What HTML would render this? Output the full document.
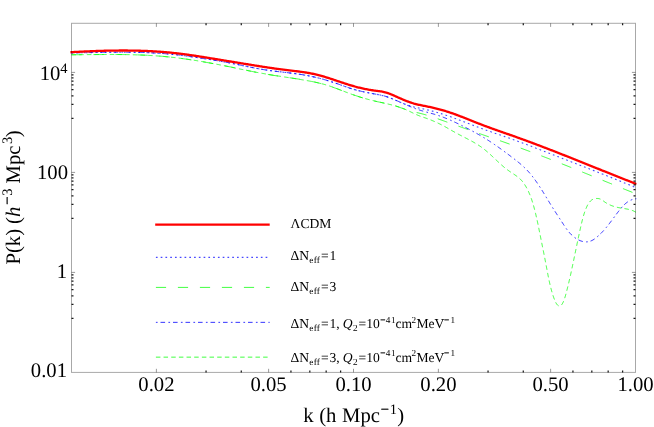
<!DOCTYPE html>
<html><head><meta charset="utf-8"><title>P(k)</title>
<style>
html,body{margin:0;padding:0;background:#fff;}
body{width:654px;height:427px;overflow:hidden;}
svg{display:block;}
text{font-family:"Liberation Serif",serif;fill:#000;text-rendering:geometricPrecision;}
</style></head><body>
<svg width="654" height="427" viewBox="0 0 654 427">
<rect width="654" height="427" fill="#fff"/>
<defs><clipPath id="cp"><rect x="70.2" y="23.3" width="566.4" height="349.09999999999997"/></clipPath></defs>
<g fill="none" clip-path="url(#cp)" stroke-linejoin="round">
<path d="M71.51 52.87L72.51 52.86L73.50 52.85L74.50 52.84L75.50 52.83L76.50 52.82L77.49 52.81L78.49 52.80L79.49 52.78L80.49 52.77L81.49 52.76L82.48 52.74L83.48 52.73L84.48 52.71L85.48 52.69L86.48 52.68L87.48 52.66L88.48 52.64L89.48 52.62L90.48 52.61L91.48 52.59L92.48 52.57L93.48 52.55L94.48 52.54L95.48 52.52L96.48 52.50L97.48 52.48L98.48 52.46L99.48 52.45L100.49 52.43L101.49 52.41L102.49 52.40L103.49 52.38L104.49 52.36L105.49 52.35L106.49 52.33L107.49 52.32L108.49 52.30L109.50 52.29L110.50 52.28L111.50 52.26L112.50 52.25L113.50 52.24L114.50 52.23L115.51 52.22L116.51 52.21L117.51 52.21L118.51 52.20L119.51 52.20L120.51 52.19L121.51 52.19L122.52 52.19L123.52 52.18L124.52 52.18L125.52 52.19L126.52 52.19L127.52 52.19L128.52 52.20L129.52 52.20L130.53 52.21L131.53 52.22L132.53 52.23L133.53 52.25L134.53 52.26L135.53 52.28L136.53 52.29L137.53 52.31L138.53 52.33L139.53 52.36L140.53 52.38L141.53 52.41L142.53 52.44L143.53 52.47L144.53 52.50L145.53 52.53L146.53 52.57L147.53 52.61L148.53 52.65L149.53 52.69L150.52 52.74L151.52 52.79L152.52 52.84L153.52 52.89L154.52 52.95L155.51 53.00L156.51 53.06L157.51 53.12L158.51 53.19L159.50 53.26L160.50 53.33L161.50 53.40L162.49 53.48L163.49 53.55L164.48 53.64L165.48 53.72L166.47 53.81L167.47 53.90L168.46 53.99L169.46 54.08L170.45 54.18L171.45 54.28L172.44 54.39L173.43 54.49L174.43 54.60L175.42 54.71L176.41 54.82L177.41 54.93L178.40 55.05L179.39 55.17L180.38 55.29L181.38 55.41L182.37 55.53L183.36 55.66L184.35 55.79L185.34 55.91L186.33 56.05L187.33 56.18L188.32 56.31L189.31 56.44L190.30 56.58L191.29 56.72L192.28 56.86L193.27 56.99L194.26 57.13L195.25 57.28L196.24 57.42L197.23 57.56L198.22 57.70L199.21 57.85L200.20 57.99L201.19 58.14L202.18 58.29L203.17 58.44L204.16 58.59L205.15 58.74L206.13 58.89L207.12 59.04L208.11 59.19L209.10 59.35L210.09 59.51L211.08 59.66L212.06 59.82L213.05 59.98L214.04 60.15L215.02 60.31L216.01 60.48L217.00 60.64L217.98 60.81L218.97 60.98L219.95 61.16L220.94 61.33L221.92 61.51L222.91 61.69L223.89 61.87L224.87 62.05L225.86 62.23L226.84 62.42L227.82 62.61L228.80 62.80L229.78 62.99L230.77 63.18L231.75 63.38L232.73 63.58L233.71 63.78L234.69 63.97L235.67 64.17L236.65 64.38L237.63 64.58L238.61 64.78L239.58 64.98L240.56 65.18L241.54 65.39L242.52 65.59L243.50 65.79L244.48 65.99L245.46 66.19L246.44 66.39L247.42 66.59L248.40 66.79L249.38 66.99L250.36 67.18L251.34 67.38L252.32 67.57L253.30 67.76L254.29 67.95L255.27 68.13L256.25 68.31L257.23 68.50L258.22 68.67L259.20 68.85L260.19 69.02L261.17 69.19L262.16 69.36L263.14 69.52L264.13 69.68L265.12 69.83L266.11 69.98L267.09 70.13L268.08 70.27L269.07 70.41L270.07 70.55L271.06 70.68L272.05 70.82L273.04 70.94L274.03 71.07L275.03 71.20L276.02 71.32L277.01 71.44L278.01 71.56L279.00 71.68L280.00 71.80L280.99 71.91L281.98 72.03L282.98 72.15L283.97 72.26L284.97 72.38L285.96 72.50L286.96 72.62L287.95 72.74L288.94 72.86L289.94 72.98L290.93 73.10L291.92 73.23L292.92 73.35L293.91 73.48L294.90 73.61L295.89 73.75L296.88 73.89L297.87 74.03L298.86 74.17L299.85 74.32L300.84 74.47L301.82 74.63L302.81 74.79L303.79 74.95L304.78 75.12L305.76 75.29L306.75 75.47L307.73 75.66L308.71 75.85L309.69 76.04L310.67 76.24L311.64 76.45L312.62 76.66L313.60 76.88L314.57 77.10L315.54 77.32L316.52 77.55L317.49 77.79L318.46 78.03L319.43 78.27L320.40 78.52L321.36 78.78L322.33 79.04L323.29 79.30L324.25 79.57L325.22 79.85L326.18 80.13L327.13 80.41L328.09 80.70L329.05 80.99L330.00 81.29L330.96 81.59L331.91 81.90L332.86 82.21L333.81 82.53L334.76 82.85L335.71 83.17L336.65 83.50L337.60 83.84L338.54 84.17L339.48 84.51L340.42 84.85L341.37 85.19L342.31 85.53L343.25 85.86L344.19 86.20L345.14 86.54L346.08 86.87L347.02 87.20L347.97 87.52L348.92 87.85L349.87 88.16L350.82 88.47L351.77 88.77L352.72 89.07L353.68 89.35L354.64 89.63L355.60 89.90L356.57 90.16L357.53 90.41L358.50 90.65L359.48 90.89L360.45 91.12L361.42 91.34L362.40 91.55L363.38 91.76L364.36 91.97L365.34 92.17L366.32 92.37L367.31 92.56L368.29 92.75L369.28 92.94L370.26 93.12L371.25 93.30L372.23 93.49L373.22 93.67L374.20 93.85L375.19 94.03L376.17 94.21L377.16 94.40L378.14 94.59L379.12 94.78L380.10 94.99L381.07 95.20L382.05 95.42L383.01 95.66L383.97 95.92L384.93 96.19L385.88 96.48L386.83 96.79L387.77 97.11L388.71 97.46L389.64 97.81L390.57 98.18L391.49 98.55L392.42 98.94L393.34 99.33L394.26 99.72L395.18 100.11L396.11 100.50L397.03 100.89L397.95 101.28L398.87 101.67L399.80 102.05L400.72 102.43L401.65 102.81L402.58 103.18L403.51 103.54L404.44 103.90L405.38 104.25L406.32 104.59L407.26 104.92L408.20 105.24L409.15 105.56L410.10 105.86L411.05 106.15L412.01 106.42L412.97 106.69L413.94 106.94L414.91 107.18L415.88 107.40L416.86 107.61L417.84 107.81L418.82 108.01L419.80 108.21L420.79 108.41L421.77 108.62L422.75 108.83L423.72 109.04L424.70 109.25L425.68 109.48L426.65 109.70L427.63 109.93L428.60 110.16L429.57 110.40L430.54 110.64L431.51 110.89L432.48 111.14L433.45 111.40L434.41 111.66L435.37 111.92L436.33 112.20L437.29 112.47L438.25 112.75L439.21 113.04L440.16 113.33L441.12 113.63L442.07 113.93L443.02 114.23L443.97 114.54L444.92 114.85L445.86 115.17L446.81 115.49L447.76 115.81L448.70 116.14L449.64 116.47L450.58 116.80L451.53 117.13L452.47 117.47L453.41 117.81L454.34 118.16L455.28 118.50L456.22 118.85L457.16 119.20L458.09 119.55L459.03 119.90L459.97 120.25L460.90 120.61L461.84 120.97L462.77 121.33L463.70 121.68L464.64 122.04L465.57 122.40L466.50 122.76L467.44 123.12L468.37 123.49L469.31 123.85L470.24 124.21L471.17 124.57L472.11 124.93L473.04 125.29L473.98 125.65L474.91 126.00L475.85 126.36L476.78 126.72L477.72 127.07L478.65 127.42L479.59 127.77L480.53 128.12L481.47 128.47L482.41 128.82L483.35 129.16L484.29 129.50L485.23 129.84L486.17 130.17L487.11 130.51L488.06 130.84L489.00 131.17L489.95 131.50L490.89 131.83L491.84 132.15L492.78 132.48L493.73 132.80L494.68 133.13L495.62 133.45L496.57 133.77L497.52 134.09L498.46 134.42L499.41 134.74L500.35 135.06L501.30 135.38L502.25 135.71L503.19 136.03L504.14 136.36L505.08 136.68L506.03 137.01L506.97 137.34L507.92 137.67L508.86 138.00L509.80 138.34L510.74 138.67L511.68 139.01L512.63 139.35L513.57 139.69L514.51 140.03L515.45 140.37L516.38 140.71L517.32 141.06L518.26 141.40L519.20 141.75L520.14 142.10L521.07 142.45L522.01 142.80L522.95 143.15L523.88 143.50L524.82 143.85L525.76 144.21L526.69 144.56L527.63 144.92L528.56 145.27L529.49 145.63L530.43 145.99L531.36 146.34L532.30 146.70L533.23 147.06L534.16 147.42L535.10 147.78L536.03 148.14L536.96 148.50L537.89 148.87L538.83 149.23L539.76 149.59L540.69 149.95L541.62 150.31L542.56 150.68L543.49 151.04L544.42 151.40L545.35 151.77L546.28 152.13L547.22 152.49L548.15 152.86L549.08 153.22L550.01 153.58L550.95 153.95L551.88 154.31L552.81 154.67L553.74 155.04L554.67 155.40L555.61 155.76L556.54 156.12L557.47 156.49L558.40 156.85L559.34 157.21L560.27 157.57L561.20 157.93L562.13 158.29L563.07 158.66L564.00 159.02L564.93 159.38L565.86 159.74L566.80 160.10L567.73 160.46L568.66 160.83L569.59 161.19L570.53 161.55L571.46 161.91L572.39 162.27L573.32 162.64L574.26 163.00L575.19 163.36L576.12 163.72L577.05 164.08L577.98 164.45L578.92 164.81L579.85 165.17L580.78 165.53L581.71 165.90L582.64 166.26L583.58 166.62L584.51 166.98L585.44 167.35L586.37 167.71L587.30 168.07L588.23 168.44L589.17 168.80L590.10 169.17L591.03 169.53L591.96 169.90L592.89 170.26L593.82 170.63L594.75 170.99L595.68 171.36L596.61 171.73L597.54 172.09L598.47 172.46L599.40 172.83L600.33 173.19L601.26 173.56L602.19 173.93L603.12 174.30L604.05 174.67L604.98 175.04L605.91 175.41L606.84 175.78L607.77 176.15L608.70 176.52L609.63 176.89L610.56 177.26L611.48 177.63L612.41 178.00L613.34 178.38L614.27 178.75L615.20 179.12L616.12 179.50L617.05 179.87L617.98 180.25L618.90 180.63L619.83 181.00L620.76 181.38L621.68 181.76L622.61 182.14L623.53 182.51L624.46 182.89L625.38 183.27L626.31 183.65L627.23 184.04L628.16 184.42L629.08 184.80L630.01 185.18L630.93 185.57L631.85 185.95L632.78 186.34L633.70 186.72L634.62 187.11L635.55 187.49L636.47 187.88" stroke="#0000ff" stroke-opacity="0.72" stroke-width="1.1" stroke-dasharray="1.7 3.07"/>
<path d="M71.51 54.75L72.51 54.75L73.51 54.75L74.50 54.74L75.50 54.74L76.50 54.73L77.50 54.73L78.50 54.72L79.50 54.71L80.50 54.70L81.50 54.70L82.50 54.69L83.50 54.68L84.50 54.67L85.50 54.67L86.50 54.66L87.50 54.65L88.50 54.64L89.50 54.63L90.50 54.62L91.50 54.61L92.50 54.61L93.50 54.60L94.50 54.59L95.50 54.58L96.50 54.57L97.51 54.57L98.51 54.56L99.51 54.55L100.51 54.55L101.51 54.54L102.51 54.53L103.52 54.53L104.52 54.52L105.52 54.52L106.52 54.52L107.52 54.51L108.53 54.51L109.53 54.51L110.53 54.51L111.53 54.51L112.54 54.51L113.54 54.51L114.54 54.51L115.54 54.52L116.54 54.52L117.55 54.53L118.55 54.53L119.55 54.54L120.55 54.55L121.55 54.56L122.56 54.57L123.56 54.58L124.56 54.59L125.56 54.61L126.56 54.62L127.57 54.64L128.57 54.66L129.57 54.68L130.57 54.70L131.57 54.72L132.57 54.75L133.58 54.77L134.58 54.80L135.58 54.83L136.58 54.86L137.58 54.89L138.58 54.92L139.58 54.96L140.58 55.00L141.58 55.04L142.58 55.08L143.58 55.12L144.58 55.16L145.58 55.21L146.58 55.26L147.58 55.31L148.58 55.36L149.58 55.42L150.58 55.48L151.58 55.54L152.58 55.60L153.58 55.66L154.58 55.73L155.57 55.80L156.57 55.87L157.57 55.94L158.57 56.02L159.56 56.10L160.56 56.18L161.56 56.26L162.55 56.35L163.55 56.43L164.55 56.53L165.54 56.62L166.54 56.72L167.53 56.82L168.53 56.92L169.52 57.02L170.52 57.13L171.51 57.24L172.51 57.35L173.50 57.46L174.50 57.58L175.49 57.70L176.48 57.82L177.48 57.94L178.47 58.07L179.46 58.20L180.45 58.33L181.45 58.46L182.44 58.59L183.43 58.73L184.42 58.87L185.41 59.01L186.40 59.15L187.39 59.30L188.38 59.44L189.37 59.59L190.36 59.74L191.35 59.89L192.34 60.05L193.33 60.20L194.32 60.36L195.31 60.52L196.30 60.68L197.29 60.84L198.27 61.00L199.26 61.16L200.25 61.33L201.24 61.50L202.22 61.67L203.21 61.84L204.20 62.01L205.18 62.18L206.17 62.35L207.16 62.53L208.14 62.71L209.13 62.88L210.11 63.06L211.10 63.24L212.08 63.42L213.07 63.60L214.05 63.78L215.04 63.97L216.02 64.15L217.00 64.34L217.99 64.52L218.97 64.71L219.95 64.90L220.94 65.08L221.92 65.27L222.90 65.46L223.88 65.65L224.87 65.84L225.85 66.03L226.83 66.22L227.81 66.41L228.79 66.61L229.77 66.80L230.75 66.99L231.73 67.19L232.71 67.39L233.70 67.58L234.68 67.78L235.66 67.98L236.64 68.18L237.62 68.38L238.60 68.58L239.58 68.78L240.56 68.98L241.53 69.19L242.51 69.39L243.49 69.60L244.47 69.81L245.45 70.02L246.43 70.23L247.41 70.44L248.39 70.65L249.37 70.87L250.35 71.08L251.33 71.29L252.31 71.50L253.29 71.71L254.27 71.91L255.26 72.11L256.24 72.31L257.22 72.51L258.20 72.70L259.18 72.89L260.17 73.08L261.15 73.26L262.13 73.44L263.11 73.62L264.10 73.80L265.08 73.97L266.07 74.14L267.05 74.31L268.04 74.48L269.02 74.64L270.01 74.80L270.99 74.96L271.98 75.12L272.97 75.27L273.96 75.43L274.94 75.58L275.93 75.73L276.92 75.88L277.91 76.03L278.90 76.18L279.89 76.33L280.88 76.48L281.87 76.62L282.86 76.77L283.85 76.91L284.84 77.05L285.83 77.20L286.82 77.34L287.81 77.48L288.81 77.63L289.80 77.77L290.79 77.92L291.78 78.06L292.78 78.21L293.77 78.36L294.76 78.50L295.75 78.65L296.74 78.81L297.73 78.96L298.73 79.12L299.72 79.27L300.71 79.43L301.70 79.60L302.68 79.76L303.67 79.93L304.66 80.10L305.65 80.28L306.63 80.46L307.62 80.64L308.60 80.82L309.59 81.01L310.57 81.21L311.55 81.41L312.53 81.61L313.51 81.82L314.48 82.03L315.46 82.25L316.43 82.47L317.41 82.70L318.38 82.93L319.35 83.17L320.31 83.42L321.28 83.67L322.25 83.93L323.21 84.20L324.17 84.47L325.13 84.75L326.08 85.04L327.04 85.33L327.99 85.63L328.94 85.93L329.89 86.25L330.84 86.56L331.79 86.88L332.73 87.21L333.68 87.54L334.62 87.88L335.56 88.22L336.50 88.56L337.45 88.90L338.38 89.25L339.32 89.60L340.26 89.95L341.20 90.30L342.14 90.65L343.08 91.01L344.02 91.36L344.95 91.71L345.89 92.07L346.83 92.42L347.77 92.77L348.71 93.12L349.65 93.46L350.59 93.81L351.53 94.15L352.47 94.49L353.42 94.82L354.36 95.16L355.31 95.48L356.25 95.80L357.20 96.12L358.15 96.44L359.10 96.74L360.06 97.05L361.01 97.35L361.97 97.64L362.92 97.93L363.88 98.22L364.84 98.50L365.80 98.78L366.76 99.05L367.73 99.31L368.69 99.57L369.66 99.83L370.63 100.08L371.60 100.32L372.57 100.57L373.54 100.80L374.51 101.03L375.49 101.26L376.47 101.47L377.45 101.69L378.43 101.90L379.41 102.11L380.39 102.32L381.37 102.52L382.35 102.73L383.33 102.94L384.31 103.14L385.29 103.36L386.27 103.57L387.25 103.79L388.23 104.01L389.20 104.25L390.17 104.48L391.14 104.73L392.11 104.99L393.07 105.25L394.04 105.53L394.99 105.81L395.95 106.11L396.90 106.42L397.85 106.74L398.79 107.07L399.74 107.40L400.68 107.73L401.63 108.07L402.57 108.40L403.52 108.73L404.46 109.06L405.41 109.38L406.36 109.69L407.32 109.99L408.27 110.29L409.23 110.58L410.19 110.86L411.15 111.13L412.12 111.39L413.08 111.65L414.05 111.90L415.03 112.14L416.00 112.37L416.98 112.60L417.95 112.83L418.93 113.06L419.90 113.29L420.87 113.53L421.84 113.78L422.81 114.03L423.78 114.29L424.74 114.56L425.70 114.84L426.66 115.12L427.62 115.41L428.57 115.71L429.53 116.01L430.48 116.31L431.43 116.62L432.38 116.94L433.33 117.25L434.28 117.58L435.22 117.90L436.17 118.23L437.12 118.56L438.06 118.89L439.00 119.22L439.95 119.56L440.89 119.89L441.83 120.23L442.78 120.57L443.72 120.90L444.66 121.24L445.60 121.58L446.55 121.91L447.49 122.25L448.43 122.59L449.38 122.92L450.32 123.26L451.26 123.60L452.20 123.93L453.15 124.27L454.09 124.60L455.03 124.94L455.97 125.28L456.92 125.61L457.86 125.95L458.80 126.29L459.74 126.62L460.69 126.96L461.63 127.29L462.57 127.63L463.52 127.96L464.46 128.30L465.40 128.63L466.35 128.97L467.29 129.30L468.23 129.64L469.18 129.97L470.12 130.31L471.06 130.64L472.01 130.97L472.95 131.30L473.89 131.64L474.84 131.97L475.78 132.30L476.73 132.63L477.67 132.96L478.62 133.30L479.56 133.63L480.51 133.96L481.45 134.29L482.40 134.61L483.34 134.94L484.29 135.27L485.23 135.60L486.18 135.93L487.12 136.25L488.07 136.58L489.02 136.91L489.96 137.24L490.91 137.56L491.86 137.89L492.80 138.22L493.75 138.54L494.69 138.87L495.64 139.20L496.59 139.53L497.53 139.85L498.48 140.18L499.42 140.51L500.37 140.84L501.31 141.17L502.26 141.50L503.20 141.83L504.15 142.16L505.09 142.50L506.04 142.83L506.98 143.16L507.92 143.50L508.87 143.83L509.81 144.17L510.75 144.50L511.70 144.84L512.64 145.18L513.58 145.52L514.52 145.86L515.46 146.20L516.40 146.54L517.35 146.88L518.29 147.22L519.23 147.57L520.17 147.91L521.11 148.25L522.05 148.60L522.99 148.94L523.93 149.29L524.86 149.64L525.80 149.98L526.74 150.33L527.68 150.68L528.62 151.03L529.56 151.38L530.50 151.73L531.43 152.08L532.37 152.43L533.31 152.79L534.24 153.14L535.18 153.49L536.12 153.85L537.05 154.20L537.99 154.56L538.93 154.91L539.86 155.27L540.80 155.62L541.73 155.98L542.67 156.34L543.60 156.70L544.54 157.06L545.47 157.42L546.40 157.78L547.34 158.14L548.27 158.50L549.21 158.86L550.14 159.22L551.07 159.58L552.01 159.95L552.94 160.31L553.87 160.68L554.80 161.04L555.74 161.41L556.67 161.77L557.60 162.14L558.53 162.50L559.46 162.87L560.39 163.24L561.32 163.61L562.26 163.97L563.19 164.34L564.12 164.71L565.05 165.08L565.98 165.45L566.91 165.82L567.84 166.19L568.77 166.56L569.70 166.94L570.63 167.31L571.56 167.68L572.48 168.05L573.41 168.43L574.34 168.80L575.27 169.17L576.20 169.55L577.13 169.92L578.06 170.30L578.98 170.67L579.91 171.05L580.84 171.42L581.77 171.80L582.70 172.18L583.62 172.55L584.55 172.93L585.48 173.30L586.41 173.68L587.33 174.06L588.26 174.44L589.19 174.81L590.11 175.19L591.04 175.57L591.97 175.95L592.90 176.32L593.82 176.70L594.75 177.08L595.68 177.46L596.60 177.84L597.53 178.21L598.46 178.59L599.38 178.97L600.31 179.35L601.24 179.73L602.16 180.11L603.09 180.49L604.02 180.86L604.94 181.24L605.87 181.62L606.80 182.00L607.72 182.38L608.65 182.76L609.58 183.13L610.51 183.51L611.43 183.89L612.36 184.27L613.29 184.64L614.21 185.02L615.14 185.40L616.07 185.78L617.00 186.15L617.92 186.53L618.85 186.91L619.78 187.28L620.71 187.66L621.63 188.04L622.56 188.41L623.49 188.79L624.42 189.16L625.35 189.54L626.27 189.91L627.20 190.29L628.13 190.66L629.06 191.03L629.99 191.41L630.92 191.78L631.85 192.15L632.78 192.52L633.71 192.90L634.64 193.27L635.57 193.64L636.50 194.01" stroke="#00ff00" stroke-width="0.75" stroke-dasharray="10.2 11.8"/>
<path d="M71.50 52.90L72.50 52.88L73.50 52.87L74.50 52.85L75.50 52.83L76.50 52.81L77.50 52.79L78.50 52.77L79.50 52.75L80.50 52.73L81.50 52.71L82.50 52.69L83.50 52.67L84.50 52.65L85.50 52.63L86.50 52.62L87.50 52.60L88.50 52.58L89.51 52.56L90.51 52.54L91.51 52.52L92.51 52.50L93.51 52.48L94.51 52.46L95.51 52.45L96.51 52.43L97.51 52.41L98.51 52.40L99.51 52.38L100.52 52.36L101.52 52.35L102.52 52.33L103.52 52.32L104.52 52.31L105.52 52.29L106.52 52.28L107.52 52.27L108.53 52.26L109.53 52.25L110.53 52.24L111.53 52.23L112.53 52.22L113.53 52.22L114.53 52.21L115.53 52.20L116.54 52.20L117.54 52.20L118.54 52.19L119.54 52.19L120.54 52.19L121.54 52.19L122.54 52.19L123.54 52.20L124.55 52.20L125.55 52.21L126.55 52.21L127.55 52.22L128.55 52.23L129.55 52.24L130.55 52.25L131.55 52.27L132.55 52.28L133.55 52.30L134.55 52.31L135.55 52.33L136.55 52.35L137.56 52.37L138.56 52.40L139.56 52.42L140.56 52.45L141.56 52.48L142.56 52.51L143.56 52.54L144.56 52.57L145.56 52.61L146.56 52.64L147.56 52.68L148.56 52.72L149.56 52.76L150.55 52.81L151.55 52.85L152.55 52.90L153.55 52.95L154.55 53.00L155.55 53.06L156.55 53.12L157.55 53.17L158.55 53.23L159.55 53.30L160.54 53.36L161.54 53.43L162.54 53.50L163.54 53.57L164.54 53.64L165.53 53.72L166.53 53.80L167.53 53.88L168.53 53.96L169.52 54.05L170.52 54.14L171.52 54.23L172.51 54.32L173.51 54.42L174.50 54.52L175.50 54.63L176.49 54.73L177.49 54.84L178.48 54.95L179.48 55.07L180.47 55.19L181.46 55.31L182.45 55.44L183.44 55.57L184.44 55.70L185.43 55.84L186.42 55.98L187.40 56.12L188.39 56.27L189.38 56.42L190.37 56.57L191.36 56.72L192.35 56.87L193.34 57.02L194.32 57.17L195.31 57.33L196.30 57.48L197.29 57.63L198.28 57.78L199.27 57.93L200.26 58.09L201.24 58.24L202.23 58.39L203.22 58.54L204.21 58.69L205.20 58.84L206.19 58.99L207.18 59.14L208.17 59.29L209.16 59.44L210.15 59.59L211.14 59.75L212.13 59.90L213.12 60.06L214.11 60.21L215.10 60.37L216.08 60.53L217.07 60.69L218.06 60.85L219.05 61.02L220.04 61.18L221.02 61.35L222.01 61.52L222.99 61.69L223.98 61.87L224.96 62.04L225.95 62.22L226.93 62.41L227.92 62.59L228.90 62.78L229.88 62.97L230.86 63.16L231.85 63.35L232.83 63.55L233.81 63.75L234.79 63.95L235.77 64.15L236.75 64.35L237.73 64.55L238.71 64.75L239.69 64.96L240.67 65.16L241.65 65.37L242.63 65.57L243.61 65.78L244.59 65.98L245.57 66.18L246.55 66.39L247.52 66.59L248.50 66.79L249.48 66.99L250.47 67.19L251.45 67.39L252.43 67.58L253.41 67.77L254.39 67.96L255.37 68.15L256.35 68.34L257.34 68.52L258.32 68.70L259.30 68.88L260.29 69.06L261.27 69.23L262.26 69.40L263.25 69.56L264.23 69.72L265.22 69.88L266.21 70.03L267.20 70.18L268.19 70.32L269.18 70.46L270.17 70.60L271.16 70.73L272.16 70.86L273.15 70.99L274.14 71.12L275.14 71.24L276.13 71.36L277.13 71.48L278.12 71.60L279.12 71.72L280.11 71.83L281.11 71.95L282.10 72.06L283.10 72.18L284.09 72.29L285.09 72.41L286.08 72.52L287.08 72.64L288.07 72.76L289.07 72.88L290.06 73.00L291.06 73.12L292.05 73.24L293.04 73.37L294.04 73.49L295.03 73.62L296.02 73.76L297.01 73.89L298.00 74.03L298.99 74.18L299.98 74.33L300.97 74.48L301.96 74.63L302.94 74.79L303.93 74.96L304.92 75.13L305.90 75.30L306.88 75.48L307.86 75.67L308.85 75.86L309.83 76.06L310.80 76.26L311.78 76.47L312.76 76.68L313.73 76.90L314.71 77.12L315.68 77.35L316.66 77.58L317.63 77.82L318.60 78.06L319.57 78.31L320.53 78.56L321.50 78.82L322.46 79.08L323.43 79.35L324.39 79.62L325.35 79.90L326.31 80.18L327.27 80.47L328.23 80.76L329.19 81.05L330.14 81.35L331.10 81.65L332.05 81.96L333.00 82.27L333.95 82.59L334.90 82.91L335.85 83.23L336.79 83.56L337.74 83.89L338.68 84.23L339.63 84.56L340.57 84.90L341.52 85.24L342.46 85.57L343.40 85.91L344.35 86.24L345.29 86.58L346.24 86.91L347.18 87.23L348.13 87.56L349.08 87.88L350.03 88.19L350.98 88.50L351.93 88.80L352.89 89.09L353.84 89.38L354.80 89.66L355.77 89.93L356.73 90.19L357.70 90.44L358.67 90.69L359.64 90.93L360.61 91.16L361.59 91.38L362.56 91.60L363.54 91.82L364.52 92.03L365.50 92.23L366.48 92.43L367.47 92.63L368.45 92.82L369.44 93.01L370.42 93.19L371.41 93.38L372.39 93.56L373.38 93.74L374.37 93.92L375.35 94.10L376.34 94.28L377.32 94.46L378.31 94.65L379.29 94.84L380.27 95.03L381.25 95.24L382.22 95.46L383.19 95.69L384.16 95.93L385.12 96.20L386.07 96.48L387.02 96.78L387.97 97.10L388.91 97.44L389.84 97.78L390.77 98.14L391.70 98.52L392.63 98.90L393.55 99.28L394.47 99.68L395.39 100.08L396.31 100.48L397.23 100.88L398.15 101.28L399.06 101.69L399.98 102.10L400.90 102.51L401.81 102.92L402.73 103.32L403.64 103.73L404.56 104.14L405.48 104.54L406.40 104.94L407.32 105.34L408.24 105.73L409.16 106.13L410.08 106.51L411.01 106.89L411.93 107.27L412.86 107.64L413.79 108.00L414.72 108.36L415.66 108.71L416.60 109.05L417.54 109.38L418.48 109.71L419.43 110.02L420.38 110.33L421.34 110.63L422.29 110.91L423.25 111.19L424.22 111.47L425.18 111.73L426.15 112.00L427.11 112.26L428.08 112.52L429.05 112.78L430.01 113.04L430.98 113.30L431.94 113.57L432.91 113.84L433.87 114.11L434.83 114.39L435.79 114.68L436.74 114.98L437.69 115.28L438.64 115.60L439.59 115.92L440.53 116.25L441.48 116.59L442.41 116.93L443.35 117.28L444.28 117.64L445.22 118.01L446.15 118.38L447.07 118.76L448.00 119.14L448.92 119.53L449.84 119.92L450.76 120.32L451.67 120.73L452.59 121.14L453.50 121.56L454.41 121.98L455.32 122.40L456.23 122.83L457.13 123.26L458.03 123.70L458.93 124.14L459.84 124.58L460.73 125.03L461.63 125.47L462.53 125.93L463.42 126.38L464.31 126.83L465.21 127.29L466.10 127.75L466.98 128.21L467.87 128.68L468.76 129.14L469.64 129.61L470.53 130.08L471.41 130.55L472.29 131.03L473.17 131.50L474.05 131.98L474.92 132.47L475.80 132.95L476.67 133.44L477.54 133.93L478.41 134.42L479.27 134.92L480.14 135.42L481.00 135.93L481.86 136.43L482.72 136.95L483.57 137.46L484.43 137.98L485.28 138.50L486.13 139.03L486.97 139.56L487.82 140.10L488.66 140.63L489.50 141.18L490.34 141.72L491.17 142.27L492.01 142.83L492.84 143.38L493.67 143.94L494.49 144.51L495.32 145.07L496.14 145.64L496.97 146.22L497.79 146.79L498.60 147.37L499.42 147.95L500.24 148.53L501.05 149.12L501.86 149.71L502.67 150.29L503.48 150.89L504.29 151.48L505.09 152.07L505.90 152.67L506.70 153.27L507.50 153.87L508.31 154.47L509.11 155.07L509.90 155.68L510.70 156.28L511.50 156.89L512.30 157.49L513.09 158.10L513.89 158.71L514.68 159.32L515.47 159.94L516.25 160.55L517.04 161.17L517.82 161.80L518.59 162.43L519.36 163.06L520.13 163.70L520.89 164.35L521.64 165.00L522.39 165.66L523.13 166.33L523.86 167.00L524.59 167.69L525.30 168.38L526.01 169.09L526.71 169.80L527.40 170.53L528.08 171.26L528.75 172.01L529.41 172.76L530.07 173.52L530.71 174.29L531.35 175.07L531.98 175.85L532.60 176.64L533.21 177.44L533.82 178.24L534.42 179.05L535.01 179.86L535.60 180.67L536.18 181.49L536.75 182.31L537.32 183.13L537.88 183.96L538.44 184.79L538.99 185.62L539.54 186.46L540.08 187.30L540.62 188.14L541.16 188.98L541.69 189.83L542.22 190.67L542.75 191.52L543.27 192.37L543.80 193.22L544.32 194.07L544.84 194.93L545.36 195.78L545.87 196.64L546.39 197.49L546.91 198.35L547.43 199.20L547.95 200.06L548.46 200.91L548.98 201.77L549.51 202.62L550.03 203.48L550.55 204.33L551.08 205.18L551.61 206.03L552.14 206.88L552.68 207.73L553.21 208.58L553.75 209.42L554.29 210.27L554.83 211.11L555.38 211.96L555.92 212.80L556.46 213.64L557.01 214.48L557.55 215.32L558.10 216.16L558.64 217.00L559.19 217.84L559.74 218.68L560.28 219.52L560.83 220.35L561.37 221.19L561.91 222.03L562.46 222.86L563.00 223.70L563.54 224.53L564.08 225.36L564.63 226.19L565.18 227.02L565.74 227.84L566.32 228.65L566.90 229.45L567.49 230.25L568.10 231.03L568.73 231.81L569.38 232.57L570.04 233.32L570.73 234.05L571.45 234.77L572.19 235.47L572.96 236.15L573.76 236.81L574.58 237.45L575.42 238.05L576.28 238.63L577.17 239.17L578.07 239.67L578.98 240.13L579.91 240.55L580.84 240.92L581.79 241.23L582.74 241.49L583.70 241.69L584.66 241.82L585.62 241.89L586.58 241.89L587.53 241.82L588.48 241.67L589.43 241.45L590.35 241.16L591.27 240.80L592.17 240.38L593.04 239.91L593.90 239.38L594.74 238.81L595.56 238.20L596.36 237.56L597.14 236.91L597.91 236.24L598.67 235.56L599.41 234.88L600.14 234.18L600.86 233.47L601.56 232.76L602.26 232.04L602.94 231.31L603.61 230.57L604.28 229.82L604.93 229.07L605.58 228.31L606.22 227.55L606.85 226.78L607.47 226.00L608.09 225.22L608.71 224.44L609.32 223.65L609.92 222.86L610.53 222.06L611.13 221.27L611.73 220.47L612.32 219.66L612.92 218.86L613.52 218.05L614.11 217.25L614.71 216.44L615.31 215.63L615.91 214.82L616.52 214.02L617.12 213.21L617.74 212.41L618.35 211.61L618.98 210.81L619.60 210.01L620.24 209.22L620.88 208.43L621.54 207.65L622.20 206.89L622.88 206.15L623.57 205.42L624.28 204.71L625.00 204.03L625.74 203.38L626.51 202.76L627.29 202.17L628.09 201.62L628.92 201.10L629.77 200.63L630.65 200.20L631.55 199.82L632.48 199.49L633.45 199.22L634.44 199.00L635.47 198.84L636.53 198.74" stroke="#0000ff" stroke-opacity="0.8" stroke-width="1.0" stroke-dasharray="1.7 2.9 4.6 3.3"/>
<path d="M71.51 54.77L72.20 54.77L72.90 54.76L73.60 54.75L74.30 54.75L75.00 54.74L75.70 54.74L76.40 54.73L77.10 54.72L77.79 54.72L78.49 54.71L79.19 54.70L79.89 54.69L80.59 54.69L81.29 54.68L81.99 54.67L82.69 54.67L83.39 54.66L84.09 54.65L84.79 54.64L85.49 54.64L86.19 54.63L86.89 54.62L87.59 54.62L88.29 54.61L88.99 54.60L89.69 54.60L90.39 54.59L91.09 54.58L91.79 54.58L92.49 54.57L93.19 54.56L93.89 54.56L94.59 54.55L95.29 54.54L95.99 54.54L96.69 54.53L97.39 54.53L98.09 54.52L98.79 54.52L99.49 54.51L100.19 54.51L100.89 54.51L101.59 54.50L102.29 54.50L102.99 54.50L103.69 54.49L104.39 54.49L105.09 54.49L105.79 54.49L106.49 54.48L107.20 54.48L107.90 54.48L108.60 54.48L109.30 54.48L110.00 54.48L110.70 54.48L111.40 54.48L112.10 54.48L112.80 54.48L113.50 54.49L114.20 54.49L114.90 54.49L115.60 54.50L116.30 54.50L117.01 54.51L117.71 54.51L118.41 54.52L119.11 54.52L119.81 54.53L120.51 54.54L121.21 54.54L121.91 54.55L122.61 54.56L123.31 54.57L124.01 54.58L124.71 54.59L125.41 54.60L126.11 54.61L126.81 54.63L127.51 54.64L128.21 54.65L128.91 54.67L129.61 54.68L130.32 54.70L131.02 54.72L131.72 54.73L132.42 54.75L133.12 54.77L133.82 54.79L134.52 54.81L135.22 54.83L135.92 54.85L136.62 54.88L137.32 54.90L138.02 54.93L138.72 54.95L139.42 54.98L140.11 55.00L140.81 55.03L141.51 55.06L142.21 55.09L142.91 55.12L143.61 55.15L144.31 55.18L145.01 55.22L145.71 55.25L146.41 55.28L147.11 55.32L147.81 55.36L148.51 55.39L149.20 55.43L149.90 55.47L150.60 55.51L151.30 55.56L152.00 55.60L152.70 55.64L153.40 55.69L154.09 55.73L154.79 55.78L155.49 55.83L156.19 55.88L156.89 55.93L157.58 55.98L158.28 56.03L158.98 56.08L159.68 56.14L160.37 56.19L161.07 56.25L161.77 56.31L162.47 56.37L163.16 56.43L163.86 56.49L164.56 56.55L165.25 56.62L165.95 56.68L166.65 56.75L167.34 56.82L168.04 56.89L168.74 56.96L169.43 57.03L170.13 57.10L170.82 57.17L171.52 57.25L172.21 57.32L172.91 57.40L173.61 57.48L174.30 57.56L175.00 57.64L175.69 57.72L176.39 57.80L177.08 57.89L177.78 57.97L178.47 58.06L179.17 58.15L179.86 58.23L180.55 58.32L181.25 58.41L181.94 58.50L182.64 58.60L183.33 58.69L184.02 58.78L184.72 58.88L185.41 58.97L186.10 59.07L186.80 59.17L187.49 59.27L188.18 59.37L188.88 59.47L189.57 59.57L190.26 59.68L190.95 59.78L191.65 59.88L192.34 59.99L193.03 60.10L193.72 60.20L194.41 60.31L195.11 60.42L195.80 60.53L196.49 60.64L197.18 60.75L197.87 60.87L198.56 60.98L199.25 61.10L199.94 61.21L200.63 61.33L201.33 61.44L202.02 61.56L202.71 61.68L203.40 61.80L204.09 61.92L204.78 62.04L205.47 62.16L206.16 62.28L206.85 62.41L207.53 62.53L208.22 62.65L208.91 62.78L209.60 62.90L210.29 63.03L210.98 63.16L211.67 63.29L212.36 63.42L213.05 63.54L213.73 63.67L214.42 63.80L215.11 63.94L215.80 64.07L216.48 64.20L217.17 64.33L217.86 64.47L218.55 64.60L219.23 64.74L219.92 64.87L220.61 65.01L221.29 65.14L221.98 65.28L222.67 65.42L223.35 65.56L224.04 65.70L224.72 65.84L225.41 65.98L226.10 66.12L226.78 66.26L227.47 66.40L228.15 66.54L228.84 66.68L229.52 66.82L230.21 66.97L230.89 67.11L231.58 67.25L232.26 67.39L232.95 67.54L233.63 67.68L234.32 67.82L235.00 67.97L235.69 68.11L236.37 68.26L237.05 68.40L237.74 68.54L238.42 68.69L239.11 68.83L239.79 68.97L240.48 69.11L241.16 69.26L241.85 69.40L242.53 69.54L243.22 69.68L243.90 69.82L244.59 69.97L245.27 70.11L245.96 70.25L246.64 70.39L247.33 70.52L248.01 70.66L248.70 70.80L249.39 70.94L250.07 71.07L250.76 71.21L251.45 71.35L252.13 71.48L252.82 71.61L253.51 71.75L254.19 71.88L254.88 72.01L255.57 72.14L256.26 72.27L256.94 72.40L257.63 72.52L258.32 72.65L259.01 72.78L259.70 72.90L260.39 73.02L261.08 73.15L261.77 73.27L262.46 73.39L263.15 73.51L263.84 73.63L264.53 73.75L265.22 73.87L265.91 73.99L266.60 74.10L267.29 74.22L267.98 74.34L268.67 74.45L269.36 74.57L270.05 74.68L270.74 74.79L271.43 74.91L272.12 75.02L272.82 75.13L273.51 75.24L274.20 75.36L274.89 75.47L275.58 75.58L276.27 75.69L276.96 75.80L277.66 75.91L278.35 76.02L279.04 76.12L279.73 76.23L280.42 76.34L281.11 76.45L281.81 76.56L282.50 76.66L283.19 76.77L283.88 76.88L284.57 76.99L285.26 77.09L285.95 77.20L286.65 77.31L287.34 77.41L288.03 77.52L288.72 77.63L289.41 77.73L290.10 77.84L290.79 77.95L291.48 78.06L292.17 78.16L292.86 78.27L293.56 78.38L294.25 78.49L294.94 78.60L295.63 78.71L296.32 78.82L297.01 78.93L297.70 79.04L298.39 79.15L299.08 79.26L299.77 79.38L300.46 79.49L301.15 79.60L301.84 79.72L302.53 79.83L303.22 79.95L303.91 80.07L304.60 80.19L305.29 80.31L305.98 80.43L306.67 80.55L307.36 80.67L308.05 80.80L308.74 80.92L309.43 81.05L310.12 81.18L310.81 81.31L311.50 81.44L312.18 81.57L312.87 81.71L313.56 81.85L314.25 81.99L314.93 82.13L315.62 82.28L316.30 82.43L316.99 82.58L317.67 82.73L318.35 82.89L319.03 83.05L319.71 83.21L320.39 83.38L321.07 83.55L321.75 83.72L322.43 83.90L323.10 84.08L323.78 84.26L324.45 84.45L325.12 84.65L325.80 84.84L326.47 85.04L327.13 85.25L327.80 85.46L328.47 85.67L329.13 85.89L329.80 86.11L330.46 86.33L331.12 86.55L331.78 86.78L332.44 87.01L333.10 87.25L333.76 87.48L334.42 87.72L335.08 87.96L335.74 88.21L336.39 88.45L337.05 88.70L337.70 88.94L338.36 89.19L339.01 89.44L339.67 89.69L340.32 89.94L340.98 90.20L341.63 90.45L342.29 90.70L342.94 90.95L343.59 91.21L344.25 91.46L344.90 91.71L345.55 91.97L346.21 92.22L346.86 92.47L347.52 92.72L348.17 92.97L348.83 93.21L349.48 93.46L350.14 93.70L350.80 93.95L351.45 94.19L352.11 94.43L352.77 94.66L353.43 94.90L354.09 95.13L354.75 95.36L355.41 95.58L356.08 95.80L356.74 96.02L357.40 96.24L358.07 96.46L358.73 96.67L359.40 96.88L360.07 97.09L360.74 97.29L361.40 97.49L362.07 97.69L362.74 97.89L363.42 98.08L364.09 98.27L364.76 98.46L365.43 98.65L366.11 98.84L366.78 99.02L367.46 99.20L368.13 99.38L368.81 99.56L369.49 99.73L370.17 99.91L370.84 100.08L371.52 100.25L372.20 100.41L372.88 100.58L373.57 100.74L374.25 100.91L374.93 101.07L375.61 101.23L376.30 101.38L376.98 101.54L377.66 101.69L378.35 101.85L379.03 102.00L379.72 102.15L380.40 102.30L381.09 102.46L381.78 102.61L382.46 102.76L383.15 102.91L383.83 103.06L384.52 103.22L385.20 103.37L385.89 103.53L386.57 103.68L387.25 103.84L387.94 104.00L388.62 104.16L389.30 104.33L389.98 104.49L390.66 104.66L391.34 104.83L392.01 105.00L392.69 105.18L393.37 105.36L394.04 105.55L394.71 105.73L395.39 105.92L396.06 106.12L396.72 106.32L397.39 106.52L398.06 106.73L398.72 106.94L399.38 107.16L400.04 107.39L400.70 107.61L401.36 107.85L402.01 108.09L402.66 108.34L403.31 108.59L403.96 108.85L404.61 109.11L405.25 109.38L405.89 109.66L406.53 109.95L407.17 110.23L407.80 110.53L408.44 110.83L409.07 111.13L409.70 111.43L410.34 111.73L410.97 112.04L411.60 112.34L412.23 112.65L412.86 112.96L413.49 113.26L414.12 113.56L414.76 113.86L415.39 114.15L416.03 114.44L416.67 114.73L417.31 115.01L417.95 115.29L418.59 115.55L419.24 115.81L419.89 116.06L420.54 116.31L421.20 116.54L421.86 116.77L422.52 117.00L423.18 117.22L423.84 117.44L424.50 117.67L425.16 117.89L425.82 118.12L426.48 118.35L427.14 118.58L427.80 118.82L428.45 119.06L429.11 119.31L429.76 119.56L430.42 119.82L431.07 120.08L431.72 120.34L432.37 120.61L433.02 120.88L433.66 121.16L434.31 121.44L434.95 121.72L435.59 122.01L436.23 122.30L436.87 122.59L437.51 122.89L438.15 123.19L438.78 123.49L439.41 123.80L440.04 124.11L440.67 124.42L441.30 124.74L441.92 125.06L442.54 125.38L443.16 125.71L443.78 126.03L444.40 126.37L445.01 126.70L445.63 127.04L446.24 127.38L446.84 127.72L447.45 128.06L448.06 128.41L448.66 128.75L449.26 129.10L449.87 129.45L450.47 129.79L451.07 130.14L451.68 130.49L452.28 130.84L452.88 131.18L453.49 131.53L454.10 131.87L454.71 132.21L455.32 132.55L455.93 132.89L456.54 133.22L457.16 133.56L457.78 133.89L458.40 134.22L459.02 134.54L459.64 134.87L460.27 135.19L460.89 135.52L461.52 135.84L462.14 136.16L462.77 136.49L463.39 136.81L464.02 137.13L464.65 137.45L465.27 137.77L465.90 138.10L466.53 138.42L467.15 138.75L467.78 139.07L468.40 139.40L469.02 139.73L469.65 140.06L470.27 140.39L470.89 140.72L471.50 141.06L472.12 141.40L472.73 141.74L473.34 142.09L473.95 142.43L474.56 142.78L475.17 143.14L475.77 143.50L476.37 143.86L476.96 144.22L477.56 144.59L478.15 144.97L478.73 145.35L479.32 145.73L479.89 146.12L480.47 146.51L481.04 146.91L481.61 147.31L482.17 147.72L482.73 148.14L483.28 148.56L483.83 148.98L484.38 149.42L484.92 149.85L485.46 150.29L486.00 150.74L486.53 151.18L487.07 151.64L487.59 152.09L488.12 152.55L488.64 153.02L489.16 153.48L489.68 153.95L490.20 154.42L490.71 154.89L491.23 155.37L491.74 155.84L492.25 156.32L492.77 156.80L493.28 157.28L493.79 157.76L494.29 158.24L494.80 158.73L495.31 159.21L495.82 159.69L496.33 160.17L496.84 160.65L497.35 161.14L497.87 161.62L498.38 162.09L498.89 162.57L499.41 163.05L499.93 163.52L500.45 163.99L500.97 164.46L501.49 164.93L502.02 165.39L502.54 165.85L503.08 166.31L503.61 166.76L504.15 167.21L504.69 167.66L505.23 168.10L505.78 168.54L506.33 168.97L506.88 169.40L507.44 169.82L508.01 170.24L508.57 170.65L509.15 171.05L509.72 171.46L510.30 171.85L510.89 172.24L511.47 172.63L512.06 173.02L512.65 173.40L513.24 173.79L513.82 174.17L514.41 174.56L514.99 174.96L515.56 175.35L516.13 175.75L516.70 176.16L517.26 176.57L517.81 177.00L518.35 177.43L518.89 177.87L519.41 178.32L519.92 178.79L520.43 179.26L520.91 179.76L521.39 180.26L521.85 180.78L522.30 181.31L522.74 181.86L523.17 182.41L523.58 182.98L523.99 183.55L524.38 184.13L524.77 184.72L525.14 185.32L525.51 185.92L525.87 186.53L526.22 187.14L526.56 187.75L526.90 188.37L527.22 188.99L527.54 189.61L527.85 190.24L528.16 190.87L528.46 191.50L528.75 192.13L529.04 192.77L529.31 193.41L529.59 194.06L529.85 194.70L530.11 195.35L530.37 196.00L530.62 196.66L530.86 197.31L531.10 197.97L531.34 198.63L531.57 199.29L531.79 199.95L532.01 200.62L532.23 201.29L532.44 201.95L532.65 202.62L532.85 203.29L533.05 203.96L533.25 204.64L533.44 205.31L533.64 205.99L533.82 206.66L534.01 207.34L534.19 208.02L534.37 208.69L534.55 209.37L534.72 210.05L534.90 210.73L535.07 211.41L535.24 212.09L535.41 212.77L535.57 213.45L535.73 214.13L535.90 214.82L536.06 215.50L536.21 216.18L536.37 216.87L536.53 217.55L536.68 218.23L536.83 218.92L536.98 219.60L537.13 220.28L537.28 220.97L537.43 221.65L537.57 222.34L537.72 223.02L537.86 223.71L538.01 224.40L538.15 225.08L538.29 225.77L538.43 226.45L538.57 227.14L538.71 227.83L538.85 228.51L538.99 229.20L539.12 229.88L539.26 230.57L539.40 231.26L539.53 231.94L539.67 232.63L539.81 233.32L539.94 234.00L540.08 234.69L540.22 235.37L540.35 236.06L540.49 236.74L540.63 237.43L540.76 238.12L540.90 238.80L541.04 239.49L541.18 240.17L541.32 240.86L541.45 241.54L541.59 242.22L541.73 242.91L541.87 243.59L542.01 244.28L542.14 244.96L542.28 245.65L542.42 246.33L542.56 247.02L542.70 247.70L542.84 248.39L542.97 249.07L543.11 249.76L543.25 250.44L543.39 251.13L543.52 251.81L543.66 252.50L543.80 253.18L543.93 253.87L544.07 254.56L544.21 255.24L544.34 255.93L544.48 256.62L544.61 257.30L544.75 257.99L544.88 258.68L545.02 259.37L545.15 260.06L545.28 260.74L545.41 261.43L545.55 262.12L545.68 262.81L545.81 263.50L545.94 264.19L546.07 264.89L546.20 265.58L546.33 266.27L546.46 266.96L546.59 267.65L546.72 268.34L546.84 269.04L546.97 269.73L547.10 270.42L547.23 271.11L547.37 271.80L547.50 272.49L547.63 273.18L547.76 273.87L547.90 274.56L548.03 275.25L548.17 275.94L548.31 276.63L548.44 277.32L548.58 278.01L548.73 278.69L548.87 279.38L549.01 280.06L549.16 280.75L549.31 281.43L549.46 282.11L549.61 282.79L549.76 283.47L549.92 284.15L550.08 284.83L550.24 285.50L550.40 286.18L550.57 286.85L550.74 287.52L550.91 288.19L551.08 288.86L551.26 289.53L551.44 290.19L551.62 290.86L551.81 291.52L552.00 292.18L552.19 292.84L552.39 293.49L552.59 294.15L552.79 294.80L553.01 295.46L553.22 296.12L553.45 296.78L553.68 297.45L553.93 298.13L554.19 298.82L554.45 299.52L554.74 300.24L555.04 300.95L555.35 301.66L555.69 302.35L556.04 303.02L556.42 303.65L556.83 304.23L557.26 304.76L557.71 305.22L558.19 305.58L558.67 305.84L559.17 305.98L559.67 305.97L560.17 305.84L560.66 305.58L561.13 305.22L561.59 304.76L562.01 304.23L562.41 303.62L562.78 302.96L563.12 302.27L563.44 301.54L563.74 300.81L564.02 300.08L564.28 299.36L564.53 298.66L564.76 297.96L564.98 297.28L565.18 296.61L565.38 295.94L565.57 295.28L565.75 294.62L565.93 293.96L566.11 293.30L566.29 292.64L566.46 291.98L566.63 291.32L566.81 290.65L566.98 289.98L567.15 289.32L567.32 288.65L567.49 287.98L567.65 287.30L567.82 286.63L567.98 285.96L568.15 285.28L568.31 284.60L568.47 283.93L568.64 283.25L568.80 282.57L568.96 281.89L569.12 281.21L569.27 280.52L569.43 279.84L569.59 279.16L569.74 278.48L569.90 277.79L570.05 277.11L570.21 276.42L570.36 275.74L570.51 275.05L570.66 274.37L570.82 273.68L570.97 273.00L571.12 272.31L571.27 271.62L571.42 270.94L571.56 270.25L571.71 269.57L571.86 268.88L572.01 268.19L572.15 267.51L572.30 266.82L572.44 266.13L572.59 265.45L572.73 264.76L572.88 264.07L573.02 263.39L573.17 262.70L573.31 262.01L573.45 261.33L573.60 260.64L573.74 259.95L573.88 259.27L574.03 258.58L574.17 257.89L574.31 257.21L574.45 256.52L574.59 255.83L574.73 255.15L574.88 254.46L575.02 253.77L575.16 253.09L575.30 252.40L575.44 251.71L575.58 251.03L575.72 250.34L575.87 249.65L576.01 248.97L576.15 248.28L576.29 247.60L576.43 246.91L576.57 246.23L576.72 245.54L576.86 244.85L577.00 244.17L577.14 243.48L577.29 242.80L577.43 242.11L577.57 241.43L577.72 240.74L577.86 240.06L578.00 239.38L578.15 238.69L578.29 238.01L578.44 237.33L578.59 236.64L578.73 235.96L578.88 235.28L579.02 234.59L579.17 233.91L579.32 233.23L579.47 232.55L579.62 231.86L579.77 231.18L579.92 230.50L580.07 229.82L580.22 229.14L580.37 228.46L580.52 227.78L580.68 227.10L580.83 226.42L580.98 225.74L581.14 225.06L581.30 224.38L581.45 223.70L581.61 223.03L581.77 222.35L581.94 221.67L582.10 220.99L582.27 220.32L582.44 219.64L582.62 218.97L582.79 218.29L582.98 217.62L583.16 216.94L583.36 216.27L583.55 215.60L583.75 214.93L583.96 214.25L584.17 213.58L584.39 212.91L584.62 212.25L584.85 211.58L585.09 210.91L585.34 210.24L585.60 209.58L585.86 208.91L586.13 208.25L586.41 207.58L586.70 206.92L587.00 206.26L587.31 205.61L587.64 204.97L587.98 204.34L588.34 203.73L588.72 203.14L589.12 202.57L589.54 202.03L589.99 201.51L590.46 201.02L590.95 200.57L591.48 200.16L592.03 199.78L592.62 199.45L593.24 199.16L593.89 198.92L594.56 198.73L595.25 198.59L595.96 198.50L596.67 198.46L597.39 198.47L598.10 198.53L598.81 198.64L599.50 198.81L600.17 199.03L600.82 199.30L601.45 199.63L602.05 200.00L602.63 200.40L603.21 200.82L603.78 201.25L604.35 201.68L604.92 202.10L605.50 202.50L606.09 202.88L606.69 203.25L607.29 203.60L607.90 203.94L608.52 204.26L609.15 204.57L609.77 204.86L610.41 205.14L611.05 205.41L611.70 205.66L612.35 205.90L613.00 206.13L613.67 206.35L614.33 206.56L615.00 206.75L615.67 206.94L616.35 207.11L617.03 207.27L617.71 207.43L618.40 207.58L619.08 207.71L619.77 207.84L620.47 207.96L621.16 208.08L621.86 208.19L622.55 208.30L623.25 208.41L623.94 208.52L624.64 208.63L625.33 208.74L626.02 208.86L626.71 208.99L627.40 209.12L628.08 209.26L628.76 209.42L629.44 209.58L630.11 209.76L630.78 209.96L631.44 210.17L632.10 210.40L632.75 210.65L633.39 210.92L634.03 211.22L634.65 211.54L635.28 211.88L635.89 212.26L636.49 212.66" stroke="#00ff00" stroke-width="0.75" stroke-dasharray="4.5 3.16"/>
<path d="M70.30 52.23L71.30 52.18L72.30 52.12L73.30 52.07L74.29 52.02L75.29 51.96L76.29 51.91L77.29 51.86L78.28 51.81L79.28 51.76L80.28 51.71L81.28 51.66L82.28 51.61L83.28 51.56L84.28 51.52L85.28 51.47L86.28 51.42L87.27 51.38L88.27 51.34L89.27 51.29L90.27 51.25L91.27 51.21L92.27 51.17L93.27 51.13L94.27 51.09L95.27 51.06L96.27 51.02L97.27 50.99L98.27 50.95L99.27 50.92L100.27 50.89L101.27 50.86L102.27 50.83L103.27 50.80L104.27 50.77L105.27 50.75L106.28 50.72L107.28 50.70L108.28 50.68L109.28 50.66L110.28 50.64L111.28 50.62L112.28 50.60L113.28 50.59L114.28 50.57L115.28 50.56L116.28 50.55L117.28 50.54L118.28 50.53L119.28 50.52L120.28 50.52L121.28 50.51L122.28 50.51L123.28 50.51L124.28 50.51L125.29 50.51L126.29 50.52L127.29 50.52L128.29 50.53L129.29 50.54L130.29 50.55L131.29 50.56L132.29 50.58L133.29 50.59L134.29 50.61L135.29 50.63L136.29 50.65L137.28 50.68L138.28 50.70L139.28 50.73L140.28 50.76L141.28 50.79L142.28 50.82L143.28 50.86L144.28 50.89L145.28 50.93L146.28 50.97L147.28 51.02L148.27 51.06L149.27 51.11L150.27 51.16L151.27 51.21L152.27 51.26L153.26 51.32L154.26 51.38L155.26 51.44L156.26 51.50L157.25 51.56L158.25 51.63L159.25 51.70L160.24 51.77L161.24 51.84L162.24 51.92L163.23 52.00L164.23 52.08L165.22 52.16L166.22 52.25L167.21 52.34L168.21 52.43L169.20 52.52L170.20 52.62L171.19 52.71L172.19 52.81L173.18 52.92L174.18 53.02L175.17 53.13L176.16 53.24L177.16 53.36L178.15 53.47L179.14 53.59L180.13 53.71L181.13 53.84L182.12 53.96L183.11 54.09L184.10 54.22L185.09 54.35L186.09 54.48L187.08 54.62L188.07 54.76L189.06 54.89L190.05 55.04L191.04 55.18L192.03 55.32L193.02 55.47L194.01 55.61L195.00 55.76L195.99 55.91L196.98 56.06L197.97 56.21L198.96 56.37L199.95 56.52L200.93 56.68L201.92 56.83L202.91 56.99L203.90 57.15L204.89 57.31L205.88 57.47L206.87 57.63L207.85 57.79L208.84 57.95L209.83 58.11L210.82 58.27L211.81 58.43L212.79 58.59L213.78 58.75L214.77 58.92L215.76 59.08L216.74 59.24L217.73 59.40L218.72 59.57L219.70 59.73L220.69 59.89L221.68 60.05L222.66 60.22L223.65 60.38L224.64 60.54L225.63 60.70L226.61 60.86L227.60 61.03L228.59 61.19L229.57 61.35L230.56 61.51L231.54 61.67L232.53 61.84L233.52 62.00L234.50 62.16L235.49 62.32L236.48 62.48L237.46 62.64L238.45 62.81L239.44 62.97L240.42 63.13L241.41 63.29L242.39 63.45L243.38 63.61L244.37 63.77L245.35 63.93L246.34 64.10L247.33 64.26L248.31 64.42L249.30 64.58L250.28 64.74L251.27 64.90L252.26 65.06L253.24 65.21L254.23 65.37L255.22 65.53L256.20 65.69L257.19 65.85L258.18 66.00L259.16 66.16L260.15 66.31L261.14 66.47L262.13 66.62L263.11 66.77L264.10 66.92L265.09 67.08L266.08 67.23L267.07 67.37L268.06 67.52L269.04 67.67L270.03 67.81L271.02 67.96L272.01 68.10L273.00 68.24L273.99 68.38L274.98 68.52L275.97 68.66L276.97 68.80L277.96 68.93L278.95 69.07L279.94 69.20L280.93 69.33L281.93 69.46L282.92 69.58L283.91 69.71L284.91 69.83L285.90 69.95L286.90 70.07L287.89 70.19L288.89 70.31L289.88 70.43L290.88 70.54L291.87 70.66L292.87 70.78L293.86 70.90L294.86 71.02L295.85 71.14L296.85 71.26L297.84 71.39L298.83 71.51L299.82 71.65L300.82 71.78L301.81 71.92L302.80 72.06L303.79 72.20L304.77 72.35L305.76 72.50L306.75 72.66L307.73 72.83L308.72 73.00L309.70 73.18L310.68 73.36L311.66 73.55L312.64 73.75L313.61 73.95L314.59 74.16L315.56 74.38L316.53 74.61L317.50 74.85L318.47 75.09L319.43 75.34L320.40 75.60L321.36 75.87L322.32 76.14L323.28 76.42L324.24 76.70L325.20 76.99L326.15 77.28L327.11 77.58L328.06 77.88L329.02 78.18L329.97 78.49L330.92 78.80L331.87 79.12L332.83 79.44L333.78 79.75L334.73 80.07L335.68 80.39L336.63 80.72L337.58 81.04L338.53 81.36L339.48 81.68L340.43 82.00L341.38 82.32L342.33 82.64L343.28 82.96L344.23 83.28L345.18 83.59L346.13 83.90L347.08 84.21L348.04 84.51L348.99 84.81L349.95 85.10L350.90 85.39L351.86 85.68L352.82 85.96L353.78 86.23L354.74 86.50L355.70 86.76L356.66 87.02L357.63 87.27L358.59 87.51L359.56 87.74L360.53 87.97L361.50 88.20L362.47 88.41L363.45 88.63L364.42 88.83L365.40 89.03L366.38 89.22L367.36 89.41L368.34 89.59L369.32 89.76L370.31 89.93L371.29 90.09L372.28 90.24L373.27 90.39L374.26 90.53L375.26 90.67L376.25 90.80L377.25 90.93L378.25 91.06L379.24 91.19L380.24 91.33L381.23 91.48L382.22 91.64L383.20 91.82L384.17 92.03L385.14 92.26L386.10 92.52L387.05 92.81L388.00 93.12L388.93 93.46L389.87 93.81L390.79 94.19L391.72 94.57L392.64 94.97L393.55 95.38L394.47 95.79L395.39 96.20L396.30 96.61L397.22 97.03L398.13 97.44L399.05 97.85L399.97 98.25L400.89 98.66L401.81 99.06L402.73 99.45L403.66 99.84L404.58 100.22L405.51 100.60L406.44 100.96L407.37 101.32L408.31 101.67L409.25 102.01L410.19 102.34L411.13 102.66L412.08 102.97L413.04 103.26L413.99 103.55L414.95 103.81L415.92 104.07L416.89 104.31L417.86 104.54L418.84 104.76L419.81 104.97L420.79 105.18L421.78 105.38L422.76 105.58L423.74 105.78L424.72 105.97L425.71 106.17L426.69 106.37L427.67 106.58L428.65 106.78L429.63 106.99L430.60 107.21L431.58 107.42L432.56 107.65L433.53 107.87L434.50 108.10L435.47 108.34L436.44 108.58L437.41 108.82L438.38 109.07L439.35 109.32L440.31 109.58L441.27 109.84L442.23 110.11L443.19 110.39L444.15 110.67L445.10 110.95L446.06 111.24L447.01 111.54L447.96 111.85L448.91 112.16L449.85 112.47L450.80 112.79L451.74 113.11L452.68 113.44L453.63 113.78L454.56 114.11L455.50 114.45L456.44 114.80L457.38 115.15L458.31 115.50L459.25 115.85L460.18 116.21L461.11 116.57L462.05 116.93L462.98 117.29L463.91 117.66L464.84 118.03L465.77 118.40L466.70 118.77L467.63 119.14L468.56 119.51L469.49 119.88L470.42 120.25L471.35 120.63L472.28 121.00L473.21 121.37L474.14 121.74L475.07 122.11L476.00 122.48L476.93 122.85L477.86 123.21L478.79 123.58L479.73 123.94L480.66 124.30L481.60 124.66L482.53 125.02L483.47 125.37L484.40 125.72L485.34 126.07L486.28 126.42L487.22 126.77L488.16 127.11L489.10 127.45L490.04 127.80L490.98 128.14L491.92 128.48L492.86 128.81L493.80 129.15L494.74 129.49L495.69 129.82L496.63 130.16L497.57 130.49L498.52 130.82L499.46 131.15L500.40 131.48L501.35 131.82L502.29 132.15L503.23 132.48L504.18 132.81L505.12 133.14L506.07 133.47L507.01 133.80L507.95 134.13L508.90 134.46L509.84 134.79L510.78 135.12L511.73 135.45L512.67 135.78L513.61 136.12L514.56 136.45L515.50 136.79L516.44 137.12L517.38 137.46L518.32 137.79L519.26 138.13L520.20 138.47L521.14 138.81L522.08 139.15L523.02 139.49L523.96 139.84L524.90 140.18L525.84 140.52L526.78 140.87L527.72 141.22L528.66 141.56L529.59 141.91L530.53 142.26L531.47 142.61L532.40 142.95L533.34 143.30L534.28 143.66L535.21 144.01L536.15 144.36L537.08 144.71L538.02 145.07L538.95 145.42L539.89 145.77L540.82 146.13L541.76 146.49L542.69 146.84L543.63 147.20L544.56 147.56L545.49 147.92L546.43 148.28L547.36 148.64L548.29 149.00L549.23 149.36L550.16 149.72L551.09 150.08L552.02 150.44L552.96 150.80L553.89 151.17L554.82 151.53L555.75 151.89L556.68 152.26L557.61 152.62L558.54 152.99L559.47 153.36L560.40 153.72L561.34 154.09L562.27 154.45L563.20 154.82L564.13 155.19L565.06 155.56L565.99 155.93L566.92 156.29L567.85 156.66L568.78 157.03L569.70 157.40L570.63 157.77L571.56 158.14L572.49 158.51L573.42 158.88L574.35 159.25L575.28 159.63L576.21 160.00L577.14 160.37L578.06 160.74L578.99 161.11L579.92 161.48L580.85 161.86L581.78 162.23L582.71 162.60L583.64 162.97L584.56 163.35L585.49 163.72L586.42 164.09L587.35 164.47L588.28 164.84L589.20 165.21L590.13 165.59L591.06 165.96L591.99 166.33L592.92 166.71L593.84 167.08L594.77 167.45L595.70 167.83L596.63 168.20L597.56 168.57L598.48 168.94L599.41 169.32L600.34 169.69L601.27 170.06L602.20 170.44L603.12 170.81L604.05 171.18L604.98 171.56L605.91 171.93L606.84 172.30L607.76 172.67L608.69 173.04L609.62 173.42L610.55 173.79L611.48 174.16L612.41 174.53L613.34 174.90L614.26 175.27L615.19 175.64L616.12 176.01L617.05 176.38L617.98 176.75L618.91 177.12L619.84 177.49L620.77 177.86L621.70 178.23L622.63 178.60L623.56 178.97L624.49 179.33L625.42 179.70L626.35 180.07L627.28 180.43L628.21 180.80L629.14 181.16L630.07 181.53L631.00 181.89L631.93 182.26L632.86 182.62L633.79 182.99L634.72 183.35L635.66 183.71L636.59 184.07" stroke="#ff0000" stroke-width="2.3"/>
</g>
<rect x="71.5" y="23.3" width="564.0" height="349.09999999999997" fill="none" stroke="#000" stroke-opacity="0.34" stroke-width="1"/>
<path d="M156.39 372.40v-3.60M156.39 23.30v3.60M268.61 372.40v-3.60M268.61 23.30v3.60M353.50 372.40v-3.60M353.50 23.30v3.60M438.39 372.40v-3.60M438.39 23.30v3.60M550.61 372.40v-3.60M550.61 23.30v3.60M71.50 72.40h3.60M635.50 72.40h-3.60M71.50 172.40h3.60M635.50 172.40h-3.60M71.50 272.40h3.60M635.50 272.40h-3.60" fill="none" stroke="#000" stroke-opacity="0.5" stroke-width="0.8"/>
<path d="M206.05 372.40v-2.00M206.05 23.30v2.00M241.28 372.40v-2.00M241.28 23.30v2.00M290.94 372.40v-2.00M290.94 23.30v2.00M309.82 372.40v-2.00M309.82 23.30v2.00M326.17 372.40v-2.00M326.17 23.30v2.00M340.60 372.40v-2.00M340.60 23.30v2.00M488.05 372.40v-2.00M488.05 23.30v2.00M523.28 372.40v-2.00M523.28 23.30v2.00M572.94 372.40v-2.00M572.94 23.30v2.00M591.82 372.40v-2.00M591.82 23.30v2.00M608.17 372.40v-2.00M608.17 23.30v2.00M622.60 372.40v-2.00M622.60 23.30v2.00M71.50 118.44h2.00M635.50 118.44h-2.00M71.50 104.31h2.00M635.50 104.31h-2.00M71.50 95.83h2.00M635.50 95.83h-2.00M71.50 89.74h2.00M635.50 89.74h-2.00M71.50 84.99h2.00M635.50 84.99h-2.00M71.50 81.10h2.00M635.50 81.10h-2.00M71.50 77.80h2.00M635.50 77.80h-2.00M71.50 74.93h2.00M635.50 74.93h-2.00M71.50 218.44h2.00M635.50 218.44h-2.00M71.50 204.31h2.00M635.50 204.31h-2.00M71.50 195.83h2.00M635.50 195.83h-2.00M71.50 189.74h2.00M635.50 189.74h-2.00M71.50 184.99h2.00M635.50 184.99h-2.00M71.50 181.10h2.00M635.50 181.10h-2.00M71.50 177.80h2.00M635.50 177.80h-2.00M71.50 174.93h2.00M635.50 174.93h-2.00M71.50 318.44h2.00M635.50 318.44h-2.00M71.50 304.31h2.00M635.50 304.31h-2.00M71.50 295.83h2.00M635.50 295.83h-2.00M71.50 289.74h2.00M635.50 289.74h-2.00M71.50 284.99h2.00M635.50 284.99h-2.00M71.50 281.10h2.00M635.50 281.10h-2.00M71.50 277.80h2.00M635.50 277.80h-2.00M71.50 274.93h2.00M635.50 274.93h-2.00" fill="none" stroke="#000" stroke-opacity="0.9" stroke-width="1.25"/>
<g font-size="20.7" style="filter:grayscale(1)">
<text x="156.39" y="391" text-anchor="middle">0.02</text>
<text x="268.61" y="391" text-anchor="middle">0.05</text>
<text x="353.50" y="391" text-anchor="middle">0.10</text>
<text x="438.39" y="391" text-anchor="middle">0.20</text>
<text x="550.61" y="391" text-anchor="middle">0.50</text>
<text x="635.50" y="391" text-anchor="middle">1.00</text>
<text x="67.6" y="80.4" text-anchor="end">10<tspan font-size="14.5" dy="-7.5">4</tspan></text>
<text x="68" y="178.6" text-anchor="end">100</text>
<text x="67" y="277.6" text-anchor="end">1</text>
<text x="67" y="377.4" text-anchor="end">0.01</text>
<text x="303.2" y="421.8" word-spacing="0.5">k (h Mpc<tspan font-size="14.5" dy="-7.5" dx="0.6" stroke="#000" stroke-width="0.35">−</tspan><tspan font-size="14.5" dx="1.0">1</tspan><tspan dy="7.5" dx="0.2">)</tspan></text>
<text transform="translate(19.7 264.6) rotate(-90)" word-spacing="-0.2">P(k) (<tspan font-style="italic">h</tspan><tspan font-size="14.5" dy="-7.5" dx="2.0" stroke="#000" stroke-width="0.35">−</tspan><tspan font-size="14.5" dx="0.9">3</tspan><tspan dy="7.5"> Mpc</tspan><tspan font-size="14.5" dy="-7.5" dx="1.5">3</tspan><tspan dy="7.5" dx="-0.5">)</tspan></text>
</g>
<g fill="none">
<path d="M155.2 224.7H269.7" stroke="#ff0000" stroke-width="2.3"/>
<path d="M155.9 257.4H269.7" stroke="#0000ff" stroke-opacity="0.72" stroke-width="1.1" stroke-dasharray="1.7 3.07"/>
<path d="M155.9 287.4H269.7" stroke="#00ff00" stroke-width="0.75" stroke-dasharray="10.2 11.8"/>
<path d="M155.9 322.35H269.7" stroke="#0000ff" stroke-opacity="0.8" stroke-width="1.0" stroke-dasharray="1.7 2.9 4.6 3.3"/>
<path d="M155.9 357.15H269.7" stroke="#00ff00" stroke-width="0.75" stroke-dasharray="4.5 3.16"/>
</g>
<g font-size="13.6" style="filter:grayscale(1)">
<text x="290.6" y="228">ΛCDM</text>
<text x="290.6" y="260">ΔN<tspan font-size="9.2" dy="3.2" dx="0.2" letter-spacing="0.2">eff</tspan><tspan dy="-3.2" dx="1.0">=</tspan><tspan dx="0.8">1</tspan></text>
<text x="290.6" y="290.5">ΔN<tspan font-size="9.2" dy="3.2" dx="0.2" letter-spacing="0.2">eff</tspan><tspan dy="-3.2" dx="1.0">=</tspan><tspan dx="0.8">3</tspan></text>
<text x="290.6" y="328.2">ΔN<tspan font-size="9.2" dy="3.2" dx="0.2" letter-spacing="0.2">eff</tspan><tspan dy="-3.2" dx="1.0">=</tspan><tspan dx="0.8">1,</tspan><tspan dx="3.0" font-style="italic">Q</tspan><tspan font-size="9.2" dy="3.2" dx="0.5">2</tspan><tspan dy="-3.2" dx="0.9">=</tspan><tspan dx="0.1">10</tspan><tspan font-size="9.2" dy="-5.6" dx="0.3" stroke="#000" stroke-width="0.35">−</tspan><tspan font-size="9.2" dx="0.5" letter-spacing="0.5">41</tspan><tspan dy="5.6" dx="-0.55">cm</tspan><tspan font-size="9.2" dy="-5.6" dx="-0.6">2</tspan><tspan dy="5.6" dx="0.3">MeV</tspan><tspan font-size="9.2" dy="-5.6" dx="-0.4" stroke="#000" stroke-width="0.35">−</tspan><tspan font-size="9.2" dx="1.4">1</tspan></text>
<text x="290.6" y="361.9">ΔN<tspan font-size="9.2" dy="3.2" dx="0.2" letter-spacing="0.2">eff</tspan><tspan dy="-3.2" dx="1.0">=</tspan><tspan dx="0.8">3,</tspan><tspan dx="3.0" font-style="italic">Q</tspan><tspan font-size="9.2" dy="3.2" dx="0.5">2</tspan><tspan dy="-3.2" dx="0.9">=</tspan><tspan dx="0.1">10</tspan><tspan font-size="9.2" dy="-5.6" dx="0.3" stroke="#000" stroke-width="0.35">−</tspan><tspan font-size="9.2" dx="0.5" letter-spacing="0.5">41</tspan><tspan dy="5.6" dx="-0.55">cm</tspan><tspan font-size="9.2" dy="-5.6" dx="-0.6">2</tspan><tspan dy="5.6" dx="0.3">MeV</tspan><tspan font-size="9.2" dy="-5.6" dx="-0.4" stroke="#000" stroke-width="0.35">−</tspan><tspan font-size="9.2" dx="1.4">1</tspan></text>
</g>
</svg>
</body></html>
